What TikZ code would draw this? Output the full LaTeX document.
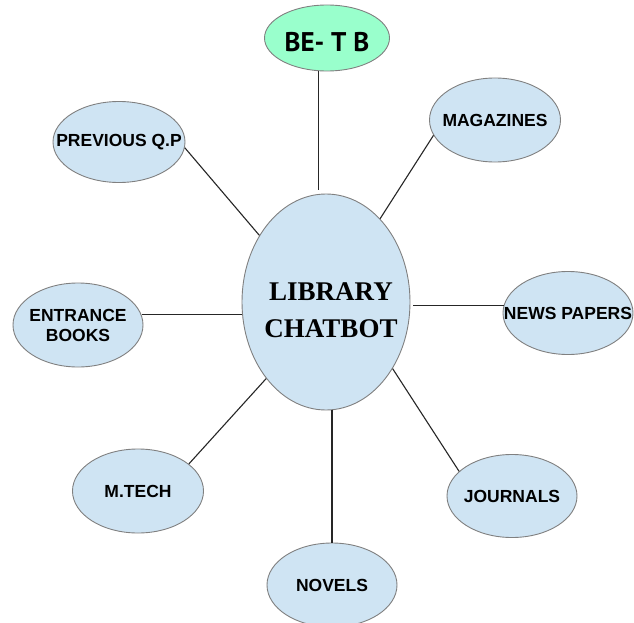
\documentclass[tikz,border=0pt]{standalone}
\usepackage{fontspec}
\setmainfont{Liberation Sans}
\newfontfamily\headfont{PT Sans}
\newfontfamily\titlefont{Liberation Serif}
\usetikzlibrary{shapes.geometric}
\definecolor{topicblue}{RGB}{207,228,243}
\definecolor{rootgreen}{RGB}{153,255,204}
\definecolor{rimgray}{RGB}{128,128,128}
\begin{document}
\begin{tikzpicture}[x=1pt,y=-1pt,
  bubble/.style={ellipse, draw=rimgray, line width=0.9pt, fill=topicblue,
    inner sep=0pt},
  topic/.style={bubble, minimum width=130pt, minimum height=84pt},
  topictext/.style={font=\bfseries\fontsize{17.5}{20}\selectfont, align=center,
    inner sep=0pt},
  link/.style={line width=1.1pt, black!85}]

\fill[white] (0,0) rectangle (634,623);
\useasboundingbox (0,0) rectangle (634,623);

% hub
\node[bubble, minimum width=168pt, minimum height=216pt,
  label={[font=\titlefont\bfseries\fontsize{27}{37}\selectfont, align=center,
    xshift=5pt, yshift=-8pt]center:LIBRARY\\CHATBOT}] (chat) at (326,302) {};

% top node
\node[bubble, fill=rootgreen, minimum width=125pt, minimum height=66pt,
  label={[font=\headfont\bfseries\fontsize{27}{30}\selectfont, yshift=-4pt]center:BE- T B}]
  (betb) at (327,38) {};

% satellites
\node[topic, minimum width=132pt, minimum height=81pt,
  label={[topictext]center:PREVIOUS Q.P}] (prev) at (119,142) {};
\node[topic, minimum width=131pt, label={[topictext]center:MAGAZINES}] (mag) at (495,120) {};
\node[topic, label={[topictext]center:ENTRANCE\\BOOKS}] (ent) at (78,325) {};
\node[topic, minimum height=83pt, label={[topictext]center:NEWS PAPERS}] (news) at (568,313) {};
\node[topic, minimum width=131pt, label={[topictext]center:M.TECH}] (mtech) at (138,491) {};
\node[topic, minimum height=83pt, label={[topictext]center:JOURNALS}] (journ) at (512,496) {};
\node[topic, label={[topictext]center:NOVELS}] (novels) at (332,585) {};

% connectors
\draw[link] (betb.256) -- ([yshift=4pt]betb.256 |- chat.north);
\draw[link] (prev.355) -- (chat.135);
\draw[link] (mag.194) -- (chat.57);
\draw[link] (news.173) -- ([xshift=3pt]news.173 -| chat.east);
\draw[link] (ent.9) -- (ent.9 -| chat.west);
\draw[link] (mtech.28) -- (chat.232);
\draw[link] (journ.155) -- (chat.315);
\draw[link] (novels.north) -- (novels.north |- chat.south);
\end{tikzpicture}
\end{document}
